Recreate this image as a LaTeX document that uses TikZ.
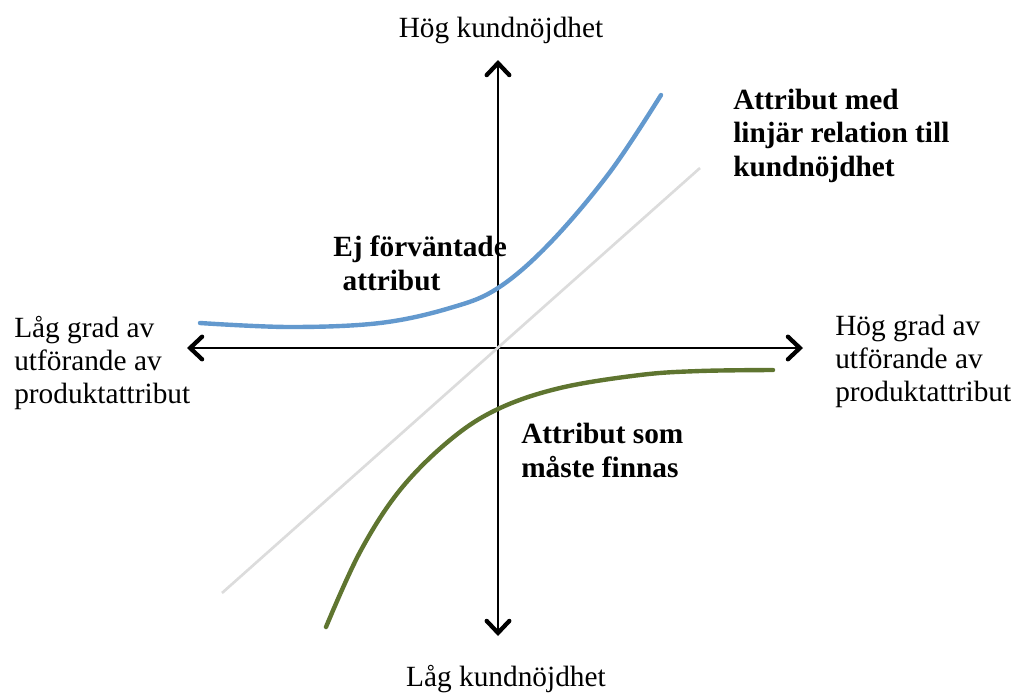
\documentclass[tikz,border=0pt]{standalone}
\usepackage{fontspec}
\setmainfont{Liberation Serif}
\usetikzlibrary{arrows.meta}
\definecolor{blueC}{RGB}{99,153,206}
\definecolor{greenC}{RGB}{95,117,48}
\definecolor{grayC}{RGB}{220,220,220}
\begin{document}
\begin{tikzpicture}[x=0.75pt,y=-0.75pt,
  axis/.style={line width=2.2pt, {Straight Barb[length=9pt,width=17pt,line width=3.2pt,line cap=round]}-{Straight Barb[length=9pt,width=17pt,line width=3.2pt,line cap=round]}},
  lbl/.style={font=\fontsize{22}{24.5}\selectfont, inner sep=0pt, align=left},
  blbl/.style={lbl, font=\fontsize{22}{25}\selectfont\bfseries},
  curve/.style={line width=3.3pt, line cap=round}]
\useasboundingbox (0,0) rectangle (1017,693);
\coordinate (T) at (498,60);
\coordinate (B) at (498,636);
\coordinate (L) at (187,348);
\coordinate (R) at (803,348);
\coordinate (G1) at (222,593);
\coordinate (G2) at (700,168);
\draw[axis] (B) -- (T);
\draw[axis] (L) -- (R);
\draw[grayC, line width=2pt] (G1) -- (G2);
\draw[curve, blueC] plot[smooth, tension=0.6] coordinates {(200,323) (290,327) (380,323) (450,308) (498,288) (550,243) (610,172) (661,95)};
\draw[curve, greenC] plot[smooth, tension=0.6] coordinates {(326,627) (360,552) (400,490) (450,440) (498,409) (560,388) (640,375) (700,371) (773,370)};
\node[lbl, anchor=base] (top) at (501,37) {Hög kundnöjdhet};
\node[lbl, anchor=base] (bot) at (506,686) {Låg kundnöjdhet};
\node[lbl, anchor=base west] (left) at (14,403) {Låg grad av\\utförande av\\produktattribut};
\node[lbl, anchor=base west] (right) at (835,401) {Hög grad av\\utförande av\\produktattribut};
\node[blbl, anchor=base west] (lin) at (733,176) {Attribut med\\linjär relation till\\kundnöjdhet};
\node[blbl, anchor=base west] (ej) at (333,290) {Ej förväntade\\\hspace*{7pt}attribut};
\node[blbl, anchor=base west] (som) at (521,477) {Attribut som\\måste finnas};
\end{tikzpicture}
\end{document}
